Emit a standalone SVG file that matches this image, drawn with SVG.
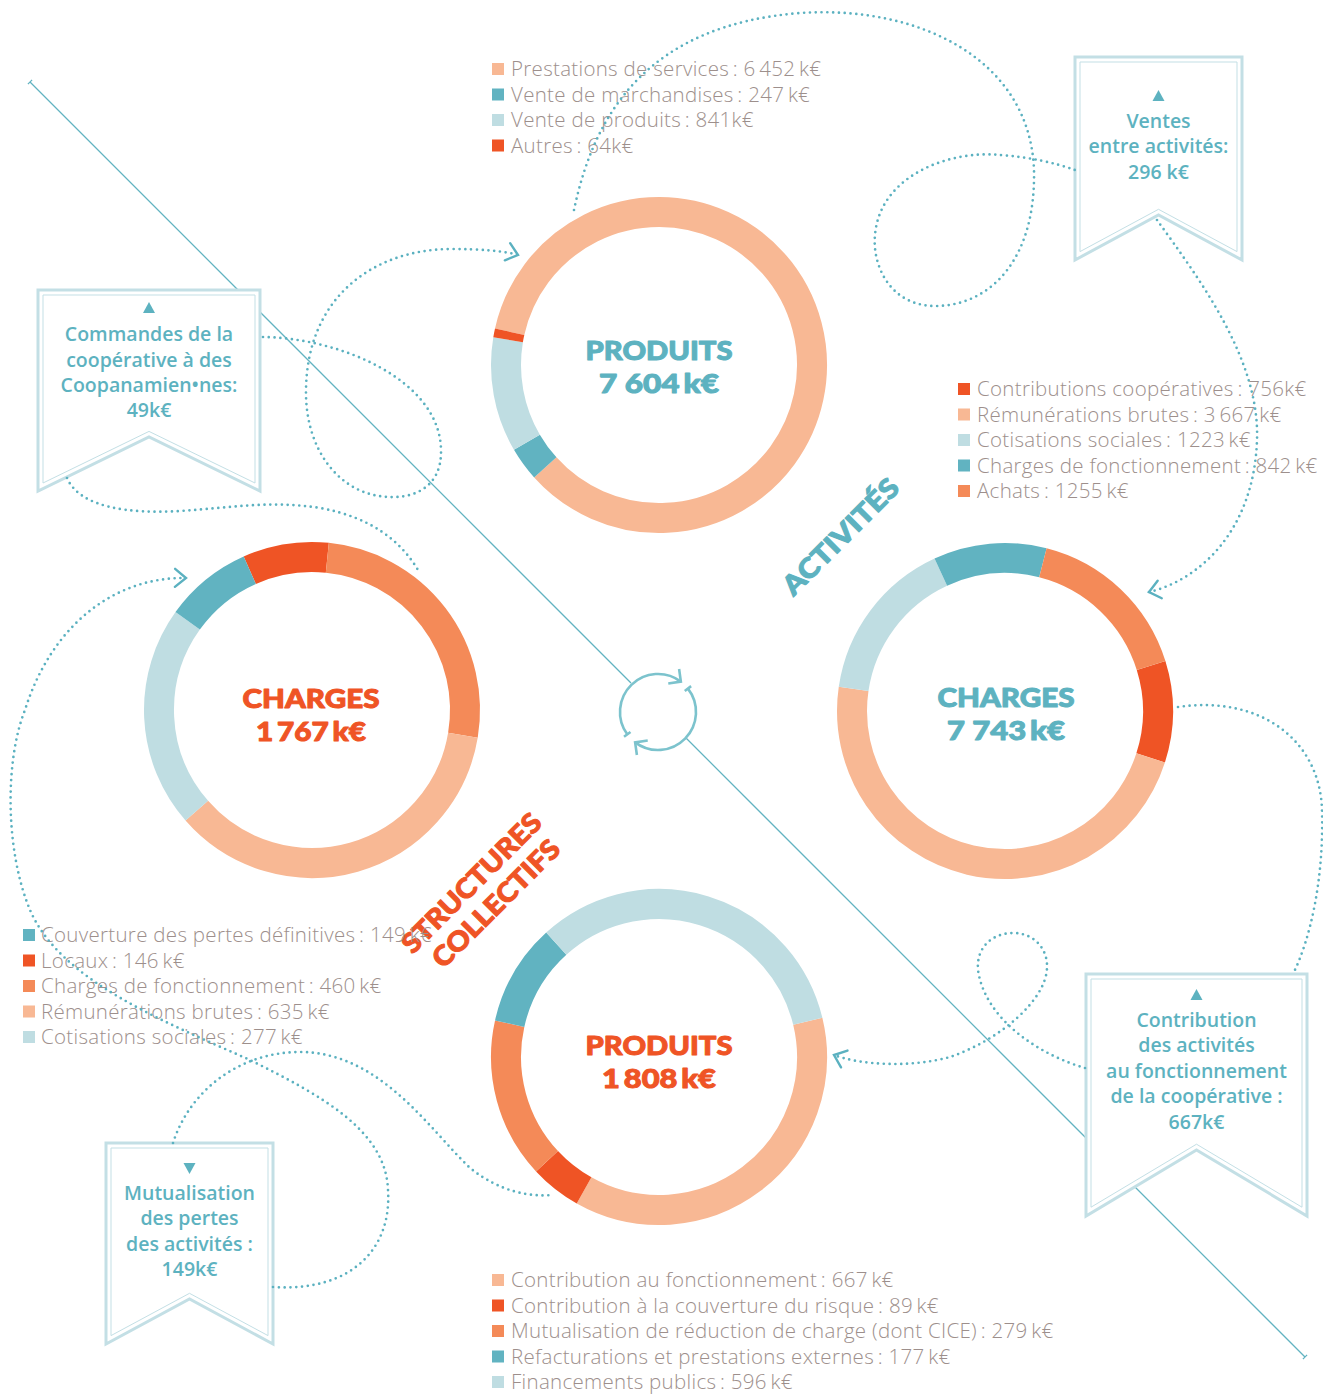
<svg xmlns="http://www.w3.org/2000/svg" width="1323" height="1394" viewBox="0 0 1323 1394">
<defs>
<style>
.lg{font-family:"Open Sans","Liberation Sans",sans-serif;font-weight:300;font-size:20.5px;letter-spacing:0.3px;fill:#9D8F8C}
.bt{font-family:"Open Sans","Liberation Sans",sans-serif;font-weight:600;font-size:19.5px;fill:#5DB2C0;text-anchor:middle}
.tt{font-family:Lato,"Liberation Sans",sans-serif;font-weight:900;font-size:27px;text-anchor:middle;stroke-width:1;stroke-linejoin:round}
.teal{fill:#5DB2C0;stroke:#5DB2C0}
.red{fill:#EF5425;stroke:#EF5425}
.seg{fill:none;stroke-width:30}
.s-sal{stroke:#F8B894}.s-ora{stroke:#F48A58}.s-red{stroke:#EF5425}.s-tea{stroke:#61B3C1}.s-lbl{stroke:#BFDDE2}
.f-sal{fill:#F8B894}.f-ora{fill:#F48A58}.f-red{fill:#EF5425}.f-tea{fill:#61B3C1}.f-lbl{fill:#BFDDE2}
.dot{fill:none;stroke:#5BB1C0;stroke-width:2.7;stroke-linecap:round;stroke-dasharray:0 5.8}
.bo{fill:#fff;stroke:#C3DFE5;stroke-width:3}
.bi{fill:none;stroke:#C3DFE5;stroke-width:1}
.tri{fill:#5DB2C0}
.diag{stroke:#62B3C1;stroke-width:1.3;fill:none}
.cyc{fill:none;stroke:#7CC3CD;stroke-width:2.6}
</style>
<marker id="chev" markerUnits="userSpaceOnUse" viewBox="-14 -12 16 24" refX="0" refY="0" markerWidth="16" markerHeight="24" orient="auto" overflow="visible">
<path d="M-11,-9 L0,0 L-11,9" fill="none" stroke="#5BB1C0" stroke-width="2.4" stroke-dasharray="none" stroke-linecap="round"/>
</marker>
<marker id="cyc-ar" markerUnits="userSpaceOnUse" viewBox="-12 -12 14 24" refX="0" refY="0" markerWidth="14" markerHeight="24" orient="auto" overflow="visible">
<path d="M-9,-9 L0,0 L-9,9" fill="none" stroke="#7CC3CD" stroke-width="2.6"/>
</marker>
</defs>
<rect width="1323" height="1394" fill="#fff"/>

<g id="axis">
<path class="diag" d="M30,82 L631,683 M686,738 L1305,1357"/>
<path class="diag" d="M27.9,84.1 L32.1,79.9 M1302.9,1359.1 L1307.1,1354.9"/>
</g>

<g id="donut-produits-activites">
<path class="seg s-sal" d="M509.65,331.78 A153,153 0 1 1 545.30,467.38"/>
<path class="seg s-tea" d="M545.30,467.38 A153,153 0 0 1 526.90,442.22"/>
<path class="seg s-lbl" d="M526.90,442.22 A153,153 0 0 1 508.10,339.72"/>
<path class="seg s-red" d="M508.10,339.72 A153,153 0 0 1 509.65,331.78"/>
<text class="tt teal" x="659" y="360" textLength="147" lengthAdjust="spacingAndGlyphs">PRODUITS</text>
<text class="tt teal" x="659" y="393" textLength="120" lengthAdjust="spacingAndGlyphs">7 604&#8201;k€</text>
</g>

<g id="donut-charges-activites">
<path class="seg s-red" d="M1151.08,665.50 A153,153 0 0 1 1150.64,757.89"/>
<path class="seg s-sal" d="M1150.64,757.89 A153,153 0 0 1 853.62,688.81"/>
<path class="seg s-lbl" d="M853.62,688.81 A153,153 0 0 1 940.82,572.11"/>
<path class="seg s-tea" d="M940.82,572.11 A153,153 0 0 1 1042.91,562.77"/>
<path class="seg s-ora" d="M1042.91,562.77 A153,153 0 0 1 1151.08,665.50"/>
<text class="tt teal" x="1006" y="707" textLength="137" lengthAdjust="spacingAndGlyphs">CHARGES</text>
<text class="tt teal" x="1006" y="740" textLength="118" lengthAdjust="spacingAndGlyphs">7 743&#8201;k€</text>
</g>

<g id="donut-charges-structures">
<path class="seg s-red" d="M249.77,570.23 A153,153 0 0 1 327.33,557.77"/>
<path class="seg s-ora" d="M327.33,557.77 A153,153 0 0 1 462.92,735.17"/>
<path class="seg s-sal" d="M462.92,735.17 A153,153 0 0 1 196.82,810.72"/>
<path class="seg s-lbl" d="M196.82,810.72 A153,153 0 0 1 187.67,620.82"/>
<path class="seg s-tea" d="M187.67,620.82 A153,153 0 0 1 249.77,570.23"/>
<text class="tt red" x="311" y="708" textLength="137" lengthAdjust="spacingAndGlyphs">CHARGES</text>
<text class="tt red" x="311" y="741" textLength="110" lengthAdjust="spacingAndGlyphs">1&#8201;767&#8201;k€</text>
</g>

<g id="donut-produits-structures">
<path class="seg s-sal" d="M807.78,1021.29 A153,153 0 0 1 584.09,1190.42"/>
<path class="seg s-red" d="M584.09,1190.42 A153,153 0 0 1 547.03,1161.27"/>
<path class="seg s-ora" d="M547.03,1161.27 A153,153 0 0 1 509.67,1023.68"/>
<path class="seg s-tea" d="M509.67,1023.68 A153,153 0 0 1 556.28,943.61"/>
<path class="seg s-lbl" d="M556.28,943.61 A153,153 0 0 1 807.78,1021.29"/>
<text class="tt red" x="659" y="1055" textLength="147" lengthAdjust="spacingAndGlyphs">PRODUITS</text>
<text class="tt red" x="659" y="1088" textLength="114" lengthAdjust="spacingAndGlyphs">1&#8201;808&#8201;k€</text>
</g>

<g id="label-activites">
<text class="tt teal" font-size="25" transform="translate(841,537) rotate(-45)" x="0" y="9" textLength="152" lengthAdjust="spacingAndGlyphs">ACTIVITÉS</text>
</g>
<g id="label-structures">
<text class="tt red" font-size="26" transform="translate(471.5,883) rotate(-45)" x="0" y="9.5" textLength="185" lengthAdjust="spacingAndGlyphs">STRUCTURES</text>
<text class="tt red" font-size="26" transform="translate(496,903.5) rotate(-45)" x="0" y="9.5" textLength="168" lengthAdjust="spacingAndGlyphs">COLLECTIFS</text>
</g>

<g id="legend-produits-activites">
<rect class="f-sal" x="492" y="63" width="12" height="12"/>
<text class="lg" x="511" y="76">Prestations de services&#8201;: 6&#8201;452&#8201;k€</text>
<rect class="f-tea" x="492" y="88.5" width="12" height="12"/>
<text class="lg" x="511" y="101.5">Vente de marchandises&#8201;: 247&#8201;k€</text>
<rect class="f-lbl" x="492" y="114" width="12" height="12"/>
<text class="lg" x="511" y="127">Vente de produits&#8201;: 841k€</text>
<rect class="f-red" x="492" y="139.5" width="12" height="12"/>
<text class="lg" x="511" y="152.5">Autres&#8201;: 64k€</text>
</g>

<g id="legend-charges-activites">
<rect class="f-red" x="958" y="383" width="12" height="12"/>
<text class="lg" x="977" y="396">Contributions coopératives&#8201;: 756k€</text>
<rect class="f-sal" x="958" y="408.5" width="12" height="12"/>
<text class="lg" x="977" y="421.5">Rémunérations brutes&#8201;: 3&#8201;667&#8201;k€</text>
<rect class="f-lbl" x="958" y="434" width="12" height="12"/>
<text class="lg" x="977" y="447">Cotisations sociales&#8201;: 1223&#8201;k€</text>
<rect class="f-tea" x="958" y="459.5" width="12" height="12"/>
<text class="lg" x="977" y="472.5">Charges de fonctionnement&#8201;: 842&#8201;k€</text>
<rect class="f-ora" x="958" y="485" width="12" height="12"/>
<text class="lg" x="977" y="498">Achats&#8201;: 1255&#8201;k€</text>
</g>

<g id="legend-charges-structures">
<rect class="f-tea" x="23" y="929" width="12" height="12"/>
<text class="lg" x="41" y="942">Couverture des pertes définitives&#8201;: 149&#8201;k€</text>
<rect class="f-red" x="23" y="954.5" width="12" height="12"/>
<text class="lg" x="41" y="967.5">Locaux&#8201;: 146&#8201;k€</text>
<rect class="f-ora" x="23" y="980" width="12" height="12"/>
<text class="lg" x="41" y="993">Charges de fonctionnement&#8201;: 460&#8201;k€</text>
<rect class="f-sal" x="23" y="1005.5" width="12" height="12"/>
<text class="lg" x="41" y="1018.5">Rémunérations brutes&#8201;: 635&#8201;k€</text>
<rect class="f-lbl" x="23" y="1031" width="12" height="12"/>
<text class="lg" x="41" y="1044">Cotisations sociales&#8201;: 277&#8201;k€</text>
</g>

<g id="legend-produits-structures">
<rect class="f-sal" x="492" y="1274" width="12" height="12"/>
<text class="lg" x="511" y="1287">Contribution au fonctionnement&#8201;: 667&#8201;k€</text>
<rect class="f-red" x="492" y="1299.5" width="12" height="12"/>
<text class="lg" x="511" y="1312.5">Contribution à la couverture du risque&#8201;: 89&#8201;k€</text>
<rect class="f-ora" x="492" y="1325" width="12" height="12"/>
<text class="lg" x="511" y="1338">Mutualisation de réduction de charge (dont CICE)&#8201;: 279&#8201;k€</text>
<rect class="f-tea" x="492" y="1350.5" width="12" height="12"/>
<text class="lg" x="511" y="1363.5">Refacturations et prestations externes&#8201;: 177&#8201;k€</text>
<rect class="f-lbl" x="492" y="1376" width="12" height="12"/>
<text class="lg" x="511" y="1389">Financements publics&#8201;: 596&#8201;k€</text>
</g>

<g id="banner-commandes">
<path class="bo" d="M38,290 H260 V491 L149,437 L38,491 Z"/>
<path class="bi" d="M43,295 H255 V483 L149,431.4 L43,483 Z"/>
<path class="tri" d="M143,313 L155,313 L149,302 Z"/>
<text class="bt" x="149" y="341">Commandes de la</text>
<text class="bt" x="149" y="367">coopérative à des</text>
<text class="bt" x="149" y="392">Coopanamien•nes:</text>
<text class="bt" x="149" y="417">49k€</text>
</g>

<g id="banner-ventes">
<path class="bo" d="M1075,57 H1242 V260 L1158.5,215 L1075,260 Z"/>
<path class="bi" d="M1080,62 H1237 V251.6 L1158.5,209.3 L1080,251.6 Z"/>
<path class="tri" d="M1152.5,101 L1164.5,101 L1158.5,90 Z"/>
<text class="bt" x="1158.5" y="128">Ventes</text>
<text class="bt" x="1158.5" y="153">entre activités:</text>
<text class="bt" x="1158.5" y="179">296 k€</text>
</g>

<g id="banner-contribution">
<path class="bo" d="M1086,974 H1307 V1216 L1196.5,1150 L1086,1216 Z"/>
<path class="bi" d="M1091,979 H1302 V1207.2 L1196.5,1144.2 L1091,1207.2 Z"/>
<path class="tri" d="M1190.5,1000 L1202.5,1000 L1196.5,989 Z"/>
<text class="bt" x="1196.5" y="1027">Contribution</text>
<text class="bt" x="1196.5" y="1052">des activités</text>
<text class="bt" x="1196.5" y="1078">au fonctionnement</text>
<text class="bt" x="1196.5" y="1103">de la coopérative :</text>
<text class="bt" x="1196.5" y="1129">667k€</text>
</g>

<g id="banner-mutualisation">
<path class="bo" d="M106,1143 H273 V1344 L189.5,1299 L106,1344 Z"/>
<path class="bi" d="M111,1148 H268 V1335.6 L189.5,1293.3 L111,1335.6 Z"/>
<path class="tri" d="M183.5,1163 L195.5,1163 L189.5,1174 Z"/>
<text class="bt" x="189.5" y="1200">Mutualisation</text>
<text class="bt" x="189.5" y="1225">des pertes</text>
<text class="bt" x="189.5" y="1251">des activités :</text>
<text class="bt" x="189.5" y="1276">149k€</text>
</g>

<g id="connectors">
<path class="dot" d="M263,337 C340,338 440,380 441,450 C442,490 410,498 390,497 C340,496 305,450 306,390 C307,300 370,250 450,249 C480,249 505,251 518,255" marker-end="url(#chev)"/>
<path class="dot" d="M67,478 C80,508 130,514 180,511 C230,508 270,500 320,508 C370,517 400,540 418,570"/>
<path class="dot" d="M574,210 C595,110 650,25 800,13 C920,5 1030,60 1034,170 C1036,260 990,305 937,306 C890,307 872,265 875,235 C880,175 950,150 1000,155 C1030,157 1055,163 1075,170"/>
<path class="dot" d="M1157,220 C1200,280 1260,360 1257,440 C1254,530 1200,580 1149,592" marker-end="url(#chev)"/>
<path class="dot" d="M1178,707 C1260,695 1320,740 1322,810 C1324,880 1310,940 1293,974"/>
<path class="dot" d="M1085,1068 C1040,1055 985,1020 978,970 C976,945 995,933 1013,933 C1035,933 1048,950 1047,968 C1046,1000 1000,1040 950,1057 C910,1068 860,1065 834,1055" marker-end="url(#chev)"/>
<path class="dot" d="M173,1143 C190,1090 240,1052 300,1052 C380,1052 430,1130 470,1168 C500,1192 530,1197 552,1195"/>
<path class="dot" d="M273,1287 C350,1292 392,1250 388,1190 C386,1130 320,1095 250,1060 C160,1020 60,980 30,910 C5,850 5,760 25,710 C50,630 110,577 186,578" marker-end="url(#chev)"/>
</g>

<g id="cycle">
<path class="cyc" d="M627.26,734.34 A38,38 0 0 1 680.87,681.65" marker-end="url(#cyc-ar)"/>
<path class="cyc" d="M687.94,688.60 A38,38 0 0 1 635.13,742.35" marker-end="url(#cyc-ar)"/>
<path class="cyc" d="M630.49,731.99 L624.02,736.69 M684.79,691.06 L691.10,686.14"/>
</g>
</svg>
